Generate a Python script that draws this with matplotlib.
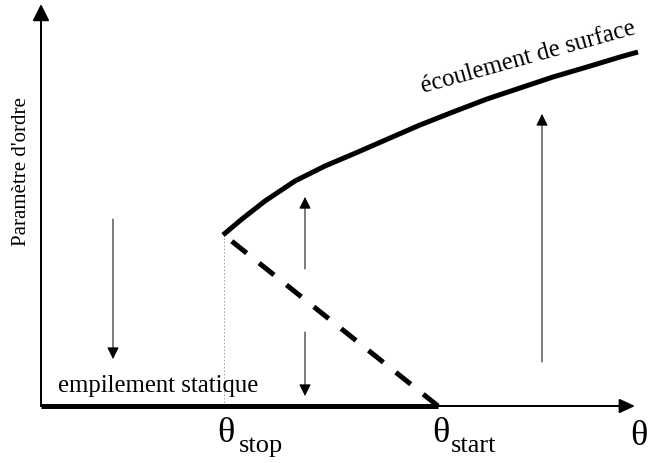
import matplotlib
matplotlib.use("Agg")
import matplotlib.pyplot as plt

plt.rcParams['font.family'] = ['Liberation Serif', 'DejaVu Serif']
plt.rcParams['lines.scale_dashes'] = False

# ---- data (schematic, in axis units: theta to the right, order parameter upward) ----
flow_theta = [182, 201, 224, 254, 284, 317, 349, 379, 412, 446, 479, 512, 546, 579, 597]
flow_order = [171, 187, 205, 225, 240, 254, 268, 281, 294, 307, 318, 329, 339, 349, 354]

static_theta = [0, 397]
static_order = [0, 0]

unstable_theta = [183, 397]
unstable_order = [171, 0]

theta_stop = 183
theta_start = 397

# hysteresis arrows: (theta, from, to)
arrows = [
    (72, 187, 47),
    (264, 137, 209),
    (264, 74, 10),
    (501, 44, 292),
]

axis_x_end = 594
axis_y_end = 402

labels_theta = ["stop", "start"]

# ---- figure ----
fig = plt.figure(figsize=(6.5, 4.64), dpi=100)
ax = fig.add_axes([0, 0, 1, 1])
ax.set_xlim(-41, 609)
ax.set_ylim(-57, 407)
ax.axis('off')

PX = 72 / 100.0  # points per pixel

# axes with arrowheads
ax.annotate('', xy=(axis_x_end, 0), xytext=(0, 0),
            arrowprops=dict(arrowstyle='-|>,head_length=%f,head_width=%f' % (13 * PX, 6 * PX),
                            lw=2 * PX, color='black', shrinkA=0, shrinkB=0, mutation_scale=1))
ax.annotate('', xy=(0, axis_y_end), xytext=(0, 0),
            arrowprops=dict(arrowstyle='-|>,head_length=%f,head_width=%f' % (14 * PX, 7 * PX),
                            lw=2 * PX, color='black', shrinkA=0, shrinkB=0, mutation_scale=1))

# dotted guide at theta_stop
ax.plot([theta_stop, theta_stop], [0, unstable_order[0]], color='#999999', lw=0.7,
        linestyle=(0, (1, 1.5)))

# branches
ax.plot(static_theta, static_order, color='black', lw=5 * PX, solid_capstyle='butt')
ax.plot(flow_theta, flow_order, color='black', lw=5 * PX, solid_capstyle='butt',
        solid_joinstyle='round')
ax.plot(unstable_theta, unstable_order, color='black', lw=5 * PX,
        linestyle=(25 * PX, (19 * PX, 16 * PX)), dash_capstyle='butt')

# hysteresis arrows
for th, a, b in arrows:
    ax.annotate('', xy=(th, b), xytext=(th, a),
                arrowprops=dict(arrowstyle='-|>,head_length=%f,head_width=%f' % (10 * PX, 5 * PX),
                                lw=1 * PX, color='black', shrinkA=0, shrinkB=0, mutation_scale=1))

# texts
ax.text(-19, 235, "Paramètre d'ordre", rotation=90, ha='center', va='center', fontsize=15)
ax.text(17, 15, "empilement statique", ha='left', va='baseline', fontsize=17.8)
ax.text(382, 314, "écoulement de surface", ha='left', va='baseline', fontsize=17.8,
        rotation=15.5, rotation_mode='anchor')

ax.text(176, -35, "θ", ha='left', va='baseline', fontsize=26)
ax.text(198, -45, labels_theta[0], ha='left', va='baseline', fontsize=19)
ax.text(391, -35, "θ", ha='left', va='baseline', fontsize=26)
ax.text(410, -45, labels_theta[1], ha='left', va='baseline', fontsize=19)
ax.text(589, -38, "θ", ha='left', va='baseline', fontsize=26)

fig.savefig("out.png", dpi=100)
